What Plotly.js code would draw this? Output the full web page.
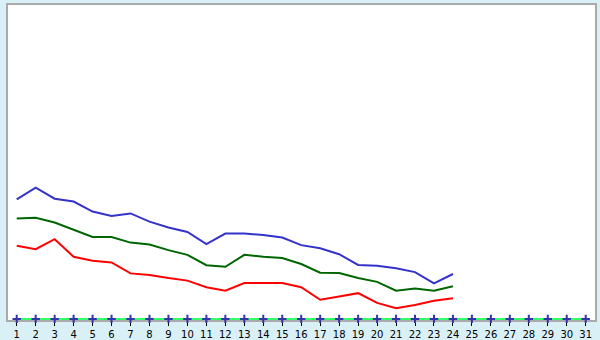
<!DOCTYPE html>
<html>
<head>
<meta charset="utf-8">
<script src="https://cdn.plot.ly/plotly-3.0.1.min.js"></script>
<style>html,body{margin:0;padding:0;background:#d9f0f7;}#chart{width:600px;height:340px;}</style>
</head>
<body>
<div id="chart"></div>
<script>
const days = [1,2,3,4,5,6,7,8,9,10,11,12,13,14,15,16,17,18,19,20,21,22,23,24];
const allDays = [1,2,3,4,5,6,7,8,9,10,11,12,13,14,15,16,17,18,19,20,21,22,23,24,25,26,27,28,29,30,31];
const blueValues = [38.1,41.8,38.3,37.4,34.2,32.8,33.6,31.0,29.1,27.7,23.8,27.2,27.2,26.7,25.9,23.5,22.5,20.6,17.2,16.9,16.1,14.9,11.3,14.3];
const greenValues = [32.0,32.2,30.7,28.3,26.1,26.1,24.3,23.7,21.9,20.4,17.1,16.6,20.4,19.8,19.4,17.5,14.7,14.6,13.0,11.8,9.0,9.7,9.0,10.4];
const redValues = [23.3,22.2,25.4,19.8,18.5,18.0,14.5,14.0,13.0,12.2,10.1,9.0,11.4,11.4,11.4,10.1,6.1,7.1,8.2,5.1,3.4,4.4,5.8,6.6];
const baseValues = allDays.map(() => 0);

const traces = [
  {x: days, y: blueValues, mode: 'lines', line: {color: '#3333cc', width: 2}, hoverinfo: 'none'},
  {x: days, y: greenValues, mode: 'lines', line: {color: '#006600', width: 2}, hoverinfo: 'none'},
  {x: days, y: redValues, mode: 'lines', line: {color: '#ff0000', width: 2}, hoverinfo: 'none'},
  {x: allDays, y: baseValues, mode: 'lines+markers', cliponaxis: false,
   line: {color: '#33ff66', width: 2},
   marker: {symbol: 'cross-thin-open', size: 6, color: '#3333aa', line: {width: 2, color: '#3333aa'}}, hoverinfo: 'none'}
];

const layout = {
  width: 600, height: 340,
  margin: {l: 8, r: 5, t: 5, b: 20, pad: 0},
  paper_bgcolor: '#d9f0f7',
  plot_bgcolor: '#ffffff',
  showlegend: false,
  xaxis: {
    range: [0.54, 31.49],
    layer: 'below traces',
    tickmode: 'array', tickvals: allDays, ticktext: allDays.map(String),
    ticks: 'outside', ticklen: 4, tickcolor: '#000000', tickwidth: 1,
    ticklabelstandoff: 0,
    showgrid: false, zeroline: false,
    showline: true, mirror: true, linecolor: '#aaaaaa', linewidth: 2,
    tickfont: {family: 'DejaVu Sans, Verdana, sans-serif', size: 10, color: '#000000'}
  },
  yaxis: {
    range: [-0.35, 100],
    layer: 'below traces',
    showticklabels: false, ticks: '', showgrid: false, zeroline: false,
    showline: true, mirror: true, linecolor: '#aaaaaa', linewidth: 2
  }
};

Plotly.newPlot('chart', traces, layout, {staticPlot: true, displayModeBar: false});
</script>
</body>
</html>
